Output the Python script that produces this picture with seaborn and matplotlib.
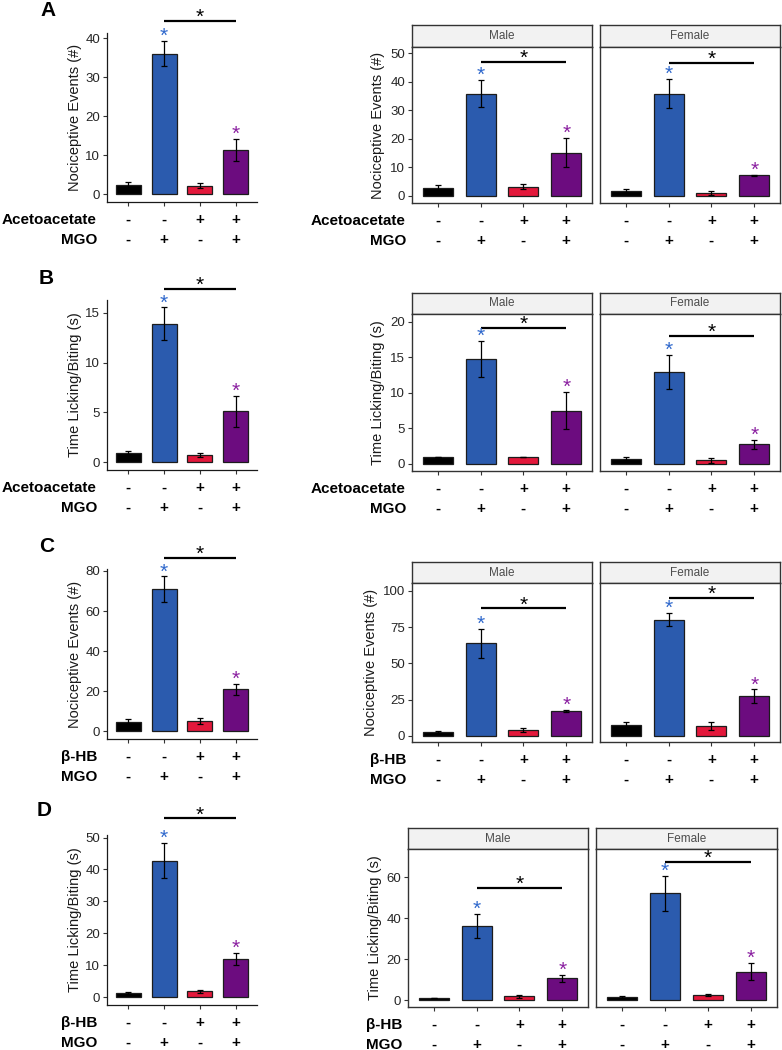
import numpy as np
import pandas as pd
import matplotlib
matplotlib.use("Agg")
import matplotlib.pyplot as plt
import seaborn as sns

# ---------------- data ----------------
conditions = ["Control", "MGO", "Ketone", "Ketone + MGO"]
ketone_signs = ["-", "-", "+", "+"]
mgo_signs = ["-", "+", "-", "+"]
sexes = ["Male", "Female"]

A_all_mean = [2.5, 36.0, 2.2, 11.3]
A_all_sem = [0.6, 3.2, 0.6, 2.8]
A_male_mean = [2.9, 35.8, 3.3, 15.2]
A_male_sem = [1.1, 4.7, 0.8, 5.0]
A_female_mean = [1.9, 35.8, 1.0, 7.2]
A_female_sem = [0.7, 5.1, 0.6, 0.3]

B_all_mean = [0.9, 13.9, 0.75, 5.1]
B_all_sem = [0.2, 1.65, 0.2, 1.55]
B_male_mean = [1.0, 14.8, 1.0, 7.5]
B_male_sem = [0.05, 2.5, 0.05, 2.6]
B_female_mean = [0.75, 13.0, 0.5, 2.75]
B_female_sem = [0.25, 2.4, 0.3, 0.6]

C_all_mean = [4.6, 71.0, 5.0, 21.0]
C_all_sem = [1.3, 6.3, 1.5, 2.8]
C_male_mean = [2.8, 64.0, 4.2, 17.0]
C_male_sem = [0.7, 10.0, 1.3, 0.6]
C_female_mean = [7.6, 80.2, 6.6, 27.2]
C_female_sem = [1.9, 4.4, 3.0, 4.8]

D_all_mean = [1.3, 42.8, 1.9, 11.9]
D_all_sem = [0.4, 5.6, 0.5, 1.9]
D_male_mean = [1.0, 36.2, 1.9, 10.6]
D_male_sem = [0.1, 6.0, 0.8, 1.6]
D_female_mean = [1.7, 52.2, 2.3, 13.9]
D_female_sem = [0.5, 8.6, 0.5, 4.2]

# heights of the significance brackets (data units)
bracket_all = {"A": 44.3, "B": 17.4, "C": 86.5, "D": 56.0}
bracket_male = {"A": 46.9, "B": 19.2, "C": 88.0, "D": 54.9}
bracket_female = {"A": 46.6, "B": 18.0, "C": 95.0, "D": 67.5}

# ---------------- style ----------------
sns.set_theme(style="ticks")
plt.rcParams["font.family"] = ["Liberation Sans", "DejaVu Sans"]

bar_colors = ["#000000", "#2B5BAE", "#E3183B", "#6C0C7F"]
star_colors = {1: "#2F68CC", 3: "#8A1FA0"}
W, H = 782, 1050
fig = plt.figure(figsize=(W / 100, H / 100), dpi=100)


def add_ax(x0, y0, x1, y1):
    return fig.add_axes([x0 / W, 1 - y1 / H, (x1 - x0) / W, (y1 - y0) / H])


def draw_bars(ax, means, sems, ylim, bracket_y):
    df = pd.DataFrame({"cond": conditions, "val": means})
    sns.barplot(data=df, x="cond", y="val", hue="cond", order=conditions,
                hue_order=conditions, palette=bar_colors, saturation=1,
                width=0.7, edgecolor="#1c1c1c", linewidth=0.9,
                errorbar=None, legend=False, ax=ax)
    ax.errorbar(np.arange(len(means)), means, yerr=sems, fmt="none",
                ecolor="black", elinewidth=0.9, capsize=2, capthick=0.9,
                zorder=5)
    ax.set_xlim(-0.6, 3.6)
    ax.set_ylim(*ylim)
    # group stars
    for i, col in star_colors.items():
        ax.annotate("*", xy=(i, means[i] + sems[i]), xytext=(0, -1),
                    textcoords="offset pixels", ha="center", va="baseline",
                    fontsize=15, color=col, annotation_clip=False)
    # bracket
    ax.plot([1, 3], [bracket_y, bracket_y], color="black", lw=1.6,
            clip_on=False, solid_capstyle="butt")
    ax.annotate("*", xy=(2, bracket_y), xytext=(0, -2),
                textcoords="offset pixels", ha="center", va="baseline",
                fontsize=15, color="black", annotation_clip=False)
    ax.set_xlabel("")
    ax.set_xticks(range(4))
    ax.set_xticklabels([""] * 4)
    ax.tick_params(axis="x", length=3, color="#333333", width=0.8)
    ax.tick_params(axis="y", length=3, color="#333333", width=0.8,
                   labelsize=9.5, labelcolor="#262626", pad=2)


def sign_rows(ax, row_names, show_names, name_dx):
    for r, signs in enumerate([ketone_signs, mgo_signs]):
        dy = -18 - 20 * r
        for i, s in enumerate(signs):
            ax.annotate(s, xy=(i, 0), xycoords=("data", "axes fraction"),
                        xytext=(0, dy), textcoords="offset pixels",
                        ha="center", va="center", fontsize=11,
                        fontweight="bold", color="black",
                        annotation_clip=False)
        if show_names:
            ax.annotate(row_names[r], xy=(0, 0), xycoords="axes fraction",
                        xytext=(name_dx, dy), textcoords="offset pixels",
                        ha="right", va="center", fontsize=11,
                        fontweight="bold", color="black",
                        annotation_clip=False)


panels = [
    ("A", (48, 11), "Nociceptive Events (#)", ["Acetoacetate", "MGO"],
     (107, 33, 257, 202), (-1.96, 41.3), [0, 10, 20, 30, 40],
     ((412, 592), (600, 780)), (25, 47, 203), (-2.45, 52.1), [0, 10, 20, 30, 40, 50], -0.15),
    ("B", (46, 278), "Time Licking/Biting (s)", ["Acetoacetate", "MGO"],
     (107, 300, 257, 470), (-0.78, 16.3), [0, 5, 10, 15],
     ((412, 592), (600, 780)), (293, 314, 471), (-0.99, 21.1), [0, 5, 10, 15, 20], -0.15),
    ("C", (47, 547), "Nociceptive Events (#)", ["β-HB", "MGO"],
     (107, 569, 257, 739), (-3.86, 80.96), [0, 20, 40, 60, 80],
     ((412, 592), (600, 780)), (562, 583, 742), (-4.35, 105.5), [0, 25, 50, 75, 100], -0.19),
    ("D", (44, 811), "Time Licking/Biting (s)", ["β-HB", "MGO"],
     (107, 835, 257, 1005), (-2.42, 50.8), [0, 10, 20, 30, 40, 50],
     ((408, 588), (596, 777)), (828, 849, 1007), (-3.4, 73.8), [0, 20, 40, 60], -0.145),
]

data = {
    "A": (A_all_mean, A_all_sem, A_male_mean, A_male_sem, A_female_mean, A_female_sem),
    "B": (B_all_mean, B_all_sem, B_male_mean, B_male_sem, B_female_mean, B_female_sem),
    "C": (C_all_mean, C_all_sem, C_male_mean, C_male_sem, C_female_mean, C_female_sem),
    "D": (D_all_mean, D_all_sem, D_male_mean, D_male_sem, D_female_mean, D_female_sem),
}

for (key, lpos, ylabel, rows, lbox, lylim, lyt, rx, ry, rylim, ryt, rlab) in panels:
    am, ase, mm, mse, fm, fse = data[key]
    fig.text(lpos[0] / W, 1 - lpos[1] / H, key, ha="center", va="center",
             fontsize=15, fontweight="bold", color="black")

    # ---- left: pooled ----
    ax = add_ax(*lbox)
    draw_bars(ax, am, ase, lylim, bracket_all[key])
    ax.set_yticks(lyt)
    sns.despine(ax=ax)
    for s in ["left", "bottom"]:
        ax.spines[s].set_color("#1a1a1a")
        ax.spines[s].set_linewidth(0.9)
    ax.set_ylabel(ylabel, fontsize=10.5, color="#1a1a1a")
    ax.yaxis.set_label_coords(-0.17, 0.5)
    sign_rows(ax, rows, True, -10)

    # ---- right: faceted by sex ----
    for j, (sex, (x0, x1), mean, sem, br) in enumerate(zip(
            sexes, rx, [mm, fm], [mse, fse], [bracket_male, bracket_female])):
        st, sb, bot = ry
        sax = add_ax(x0, st, x1, sb)
        sax.set_facecolor("#F2F2F2")
        sax.set_xticks([])
        sax.set_yticks([])
        for s in sax.spines.values():
            s.set_color("#333333")
            s.set_linewidth(1.0)
        sax.text(0.5, 0.5, sex, transform=sax.transAxes, ha="center",
                 va="center", fontsize=8.5, color="#4D4D4D")

        pax = add_ax(x0, sb, x1, bot)
        draw_bars(pax, mean, sem, rylim, br[key])
        pax.set_yticks(ryt)
        for s in pax.spines.values():
            s.set_color("#333333")
            s.set_linewidth(1.0)
            s.set_visible(True)
        if j == 0:
            pax.set_ylabel(ylabel, fontsize=10.5, color="#1a1a1a")
            pax.yaxis.set_label_coords(rlab, 0.5)
        else:
            pax.set_ylabel("")
            pax.set_yticklabels([])
            pax.tick_params(axis="y", length=0)
        sign_rows(pax, rows, j == 0, -6)

fig.savefig("out.png", dpi=100, facecolor="white")
